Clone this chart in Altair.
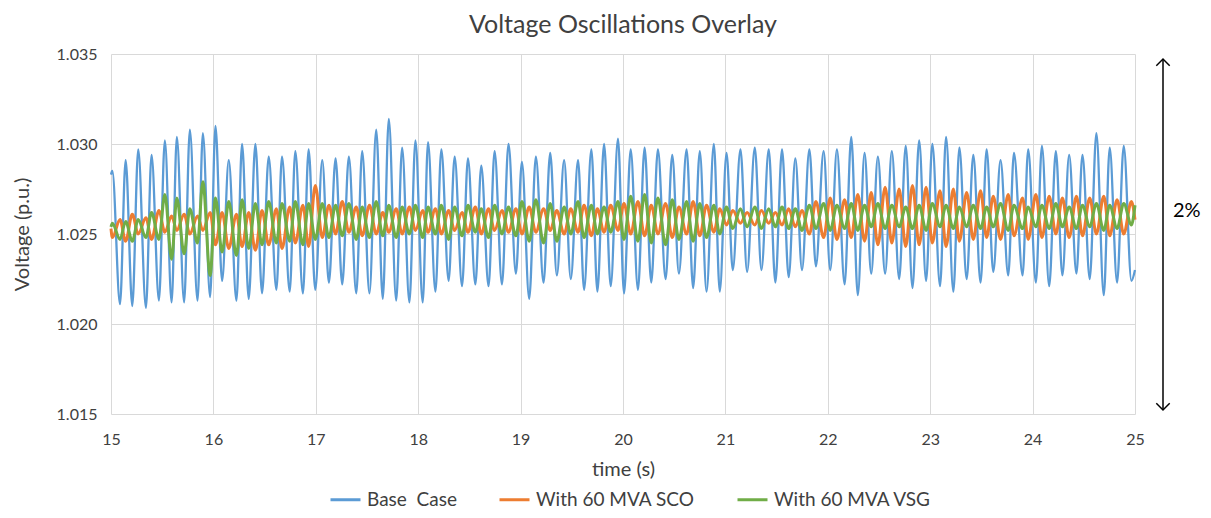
import altair as alt
import pandas as pd

# ---- data (extrema of each oscillation) ----
time_s = [15.000,
    15.013, 15.088, 15.143, 15.208, 15.266, 15.341, 15.396, 15.468, 15.526, 15.592, 15.643, 15.714, 15.770, 15.845, 15.897, 15.968,
    16.020, 16.085, 16.150, 16.225, 16.280, 16.345, 16.410, 16.475, 16.540, 16.615, 16.670, 16.745, 16.800, 16.874, 16.930, 16.995,
    17.063, 17.128, 17.193, 17.258, 17.323, 17.395, 17.453, 17.524, 17.590, 17.654, 17.713, 17.785, 17.843, 17.914, 17.973, 18.044,
    18.096, 18.168, 18.226, 18.297, 18.356, 18.428, 18.486, 18.558, 18.616, 18.687, 18.746, 18.818, 18.882, 18.954, 19.013, 19.084,
    19.149, 19.224, 19.289, 19.354, 19.425, 19.490, 19.561, 19.620, 19.691, 19.750, 19.815, 19.880, 19.951, 20.010, 20.075, 20.146,
    20.211, 20.276, 20.341, 20.416, 20.481, 20.546, 20.621, 20.685, 20.750, 20.816, 20.887, 20.945, 21.011, 21.072, 21.147, 21.212,
    21.287, 21.352, 21.423, 21.488, 21.553, 21.618, 21.683, 21.748, 21.820, 21.884, 21.959, 22.024, 22.089, 22.164, 22.229, 22.293,
    22.359, 22.424, 22.489, 22.560, 22.625, 22.697, 22.761, 22.827, 22.892, 22.960, 23.021, 23.096, 23.155, 23.226, 23.285, 23.356,
    23.421, 23.492, 23.551, 23.616, 23.687, 23.762, 23.818, 23.902, 23.957, 24.032, 24.091, 24.162, 24.227, 24.291, 24.357, 24.428,
    24.487, 24.558, 24.623, 24.695, 24.753, 24.825, 24.890, 24.965,
    25.000]

base_case = [1.0283,
    1.0285, 1.0211, 1.0291, 1.0210, 1.0297, 1.0209, 1.0294, 1.0213, 1.0302, 1.0212, 1.0304, 1.0212, 1.0308, 1.0213, 1.0306, 1.0215,
    1.0310, 1.0224, 1.0291, 1.0213, 1.0300, 1.0214, 1.0300, 1.0217, 1.0293, 1.0219, 1.0293, 1.0218, 1.0296, 1.0217, 1.0297, 1.0219,
    1.0291, 1.0223, 1.0292, 1.0222, 1.0293, 1.0217, 1.0296, 1.0217, 1.0308, 1.0214, 1.0314, 1.0213, 1.0298, 1.0212, 1.0302, 1.0212,
    1.0301, 1.0218, 1.0297, 1.0224, 1.0293, 1.0221, 1.0292, 1.0222, 1.0288, 1.0221, 1.0296, 1.0222, 1.0300, 1.0228, 1.0290, 1.0214,
    1.0293, 1.0223, 1.0295, 1.0227, 1.0291, 1.0225, 1.0291, 1.0219, 1.0297, 1.0218, 1.0300, 1.0221, 1.0303, 1.0217, 1.0297, 1.0219,
    1.0298, 1.0223, 1.0297, 1.0225, 1.0294, 1.0228, 1.0297, 1.0220, 1.0296, 1.0218, 1.0300, 1.0218, 1.0295, 1.0230, 1.0297, 1.0229,
    1.0298, 1.0230, 1.0297, 1.0223, 1.0297, 1.0226, 1.0292, 1.0230, 1.0297, 1.0232, 1.0296, 1.0230, 1.0297, 1.0222, 1.0304, 1.0216,
    1.0295, 1.0228, 1.0293, 1.0228, 1.0296, 1.0225, 1.0299, 1.0220, 1.0302, 1.0224, 1.0300, 1.0221, 1.0304, 1.0218, 1.0298, 1.0225,
    1.0294, 1.0223, 1.0297, 1.0229, 1.0291, 1.0227, 1.0295, 1.0227, 1.0297, 1.0223, 1.0299, 1.0221, 1.0296, 1.0227, 1.0294, 1.0228,
    1.0294, 1.0225, 1.0306, 1.0216, 1.0298, 1.0223, 1.0299, 1.0224,
    1.0230]

sco_60mva = [1.0253,
    1.0248, 1.0258, 1.0246, 1.0261, 1.0250, 1.0259, 1.0247, 1.0263, 1.0251, 1.0260, 1.0252, 1.0261, 1.0250, 1.0260, 1.0252, 1.0262,
    1.0244, 1.0262, 1.0242, 1.0261, 1.0243, 1.0262, 1.0241, 1.0263, 1.0244, 1.0264, 1.0242, 1.0265, 1.0245, 1.0266, 1.0243, 1.0277,
    1.0248, 1.0266, 1.0250, 1.0268, 1.0251, 1.0265, 1.0249, 1.0266, 1.0250, 1.0262, 1.0251, 1.0264, 1.0250, 1.0265, 1.0252, 1.0263,
    1.0251, 1.0264, 1.0250, 1.0263, 1.0252, 1.0262, 1.0251, 1.0265, 1.0250, 1.0264, 1.0252, 1.0263, 1.0251, 1.0264, 1.0250, 1.0265,
    1.0251, 1.0264, 1.0252, 1.0263, 1.0250, 1.0264, 1.0251, 1.0266, 1.0249, 1.0264, 1.0251, 1.0266, 1.0252, 1.0267, 1.0250, 1.0268,
    1.0249, 1.0266, 1.0250, 1.0267, 1.0248, 1.0265, 1.0250, 1.0268, 1.0249, 1.0266, 1.0251, 1.0264, 1.0255, 1.0263, 1.0256, 1.0262,
    1.0255, 1.0263, 1.0256, 1.0262, 1.0255, 1.0264, 1.0254, 1.0263, 1.0250, 1.0268, 1.0248, 1.0270, 1.0247, 1.0269, 1.0248, 1.0272,
    1.0246, 1.0273, 1.0244, 1.0276, 1.0245, 1.0275, 1.0243, 1.0277, 1.0244, 1.0276, 1.0245, 1.0274, 1.0243, 1.0275, 1.0246, 1.0273,
    1.0247, 1.0274, 1.0248, 1.0271, 1.0247, 1.0272, 1.0249, 1.0270, 1.0247, 1.0272, 1.0248, 1.0271, 1.0250, 1.0270, 1.0248, 1.0271,
    1.0249, 1.0270, 1.0250, 1.0271, 1.0249, 1.0269, 1.0250, 1.0268,
    1.0258]

vsg_60mva = [1.0254,
    1.0256, 1.0247, 1.0257, 1.0246, 1.0258, 1.0248, 1.0262, 1.0247, 1.0272, 1.0236, 1.0270, 1.0239, 1.0264, 1.0245, 1.0279, 1.0227,
    1.0270, 1.0240, 1.0268, 1.0238, 1.0269, 1.0242, 1.0267, 1.0244, 1.0268, 1.0245, 1.0267, 1.0246, 1.0268, 1.0244, 1.0267, 1.0247,
    1.0267, 1.0248, 1.0266, 1.0249, 1.0267, 1.0247, 1.0265, 1.0248, 1.0268, 1.0249, 1.0266, 1.0248, 1.0265, 1.0250, 1.0266, 1.0248,
    1.0265, 1.0250, 1.0266, 1.0247, 1.0265, 1.0249, 1.0266, 1.0251, 1.0264, 1.0248, 1.0266, 1.0250, 1.0265, 1.0249, 1.0268, 1.0246,
    1.0269, 1.0245, 1.0267, 1.0246, 1.0265, 1.0250, 1.0268, 1.0248, 1.0266, 1.0250, 1.0265, 1.0251, 1.0268, 1.0247, 1.0271, 1.0246,
    1.0272, 1.0245, 1.0270, 1.0244, 1.0269, 1.0247, 1.0268, 1.0246, 1.0267, 1.0248, 1.0266, 1.0250, 1.0265, 1.0253, 1.0264, 1.0254,
    1.0265, 1.0253, 1.0264, 1.0254, 1.0265, 1.0253, 1.0264, 1.0252, 1.0266, 1.0253, 1.0267, 1.0252, 1.0266, 1.0253, 1.0267, 1.0252,
    1.0266, 1.0254, 1.0267, 1.0253, 1.0266, 1.0254, 1.0265, 1.0253, 1.0266, 1.0252, 1.0267, 1.0254, 1.0266, 1.0253, 1.0265, 1.0254,
    1.0266, 1.0253, 1.0265, 1.0254, 1.0267, 1.0252, 1.0266, 1.0253, 1.0265, 1.0254, 1.0266, 1.0253, 1.0267, 1.0254, 1.0265, 1.0253,
    1.0266, 1.0254, 1.0267, 1.0252, 1.0266, 1.0253, 1.0267, 1.0255,
    1.0266]

series_names = ["Base \u00a0Case", "With 60 MVA SCO", "With 60 MVA VSG"]
series_colors = ["#5B9BD5", "#ED7D31", "#70AD47"]
x_ticks = [15, 16, 17, 18, 19, 20, 21, 22, 23, 24, 25]
y_ticks = [1.015, 1.02, 1.025, 1.03, 1.035]

rows = []
for name, vals in zip(series_names, [base_case, sco_60mva, vsg_60mva]):
    for t, v in zip(time_s, vals):
        rows.append({"time": t, "voltage": v, "series": name})
df = pd.DataFrame(rows)

FONT = "Lato"
TXT = "#404040"

x_enc = alt.X("time:Q", scale=alt.Scale(domain=[15, 25], nice=False),
              axis=alt.Axis(values=x_ticks, title="time (s)", format="d", labelFlush=False))
y_enc = alt.Y("voltage:Q", scale=alt.Scale(domain=[1.015, 1.035], nice=False, zero=False),
              axis=alt.Axis(values=y_ticks, title="Voltage (p.u.)", format=".3f", labelFlush=False))
color_enc = alt.Color("series:N",
                      scale=alt.Scale(domain=series_names, range=series_colors),
                      legend=alt.Legend(title=None, orient="none", direction="horizontal",
                                        legendX=218, legendY=429,
                                        symbolType="stroke", symbolSize=900,
                                        symbolStrokeWidth=3, labelFontSize=19,
                                        labelFont=FONT, labelColor=TXT, labelLimit=400,
                                        labelOffset=5, columnPadding=36))

layers = []
for name, sw in zip(series_names, [2.3, 3.0, 3.0]):
    layers.append(
        alt.Chart(df).transform_filter(alt.datum.series == name)
        .mark_line(strokeWidth=sw, interpolate="monotone")
        .encode(x=x_enc, y=y_enc, color=color_enc, order=alt.Order("time:Q"))
    )

anno = pd.DataFrame({"label": ["2%"]})
arrow_line = alt.Chart(anno).mark_rule(color="black", strokeWidth=1.5).encode(
    x=alt.value(1052), y=alt.value(5), y2=alt.value(356))
arrow_top = alt.Chart(anno).mark_point(shape="M -1 1 L 0 0 L 1 1", filled=False,
                                       color="black", strokeWidth=1.5, size=180, opacity=1).encode(
    x=alt.value(1052), y=alt.value(5))
arrow_bot = alt.Chart(anno).mark_point(shape="M -1 -1 L 0 0 L 1 -1", filled=False,
                                       color="black", strokeWidth=1.5, size=180, opacity=1).encode(
    x=alt.value(1052), y=alt.value(356))
pct_text = alt.Chart(anno).mark_text(font=FONT, fontSize=20, color="black", align="left",
                                     baseline="middle").encode(
    x=alt.value(1062), y=alt.value(157), text="label:N")

chart = alt.layer(*layers, arrow_line, arrow_top, arrow_bot, pct_text).properties(
    width=1024, height=360,
    title=alt.TitleParams("Voltage Oscillations Overlay", fontSize=25, font=FONT,
                          fontWeight="normal", color=TXT, offset=8, anchor="middle"),
    autosize=alt.AutoSizeParams(type="none"),
    padding={"left": 103, "top": 46, "right": 68, "bottom": 96},
).configure_view(stroke=None).configure_axis(
    grid=True, gridColor="#d9d9d9", gridWidth=1, domain=False, ticks=False,
    labelFont=FONT, labelFontSize=16, labelColor=TXT,
    titleFont=FONT, titleFontSize=20, titleColor=TXT, titleFontWeight="normal",
).configure_axisX(labelPadding=17, titlePadding=12).configure_axisY(labelPadding=14, titlePadding=24)

chart.save("out.html", embed_options={"renderer": "svg", "actions": False})
